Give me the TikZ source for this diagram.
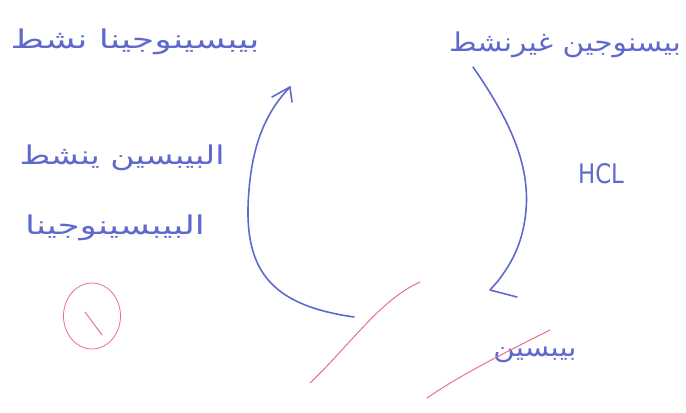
\documentclass[tikz,border=0pt]{standalone}
\usepackage{fontspec}
\usetikzlibrary{shapes.geometric}
\newfontfamily\arabicfont[Script=Arabic]{DejaVu Sans}
\TeXXeTstate=1
\definecolor{ink}{RGB}{95,105,205}
\definecolor{redink}{RGB}{235,110,140}
\tikzset{
  lbl/.style={text=ink, font=\arabicfont\fontsize{26}{30}\selectfont, inner sep=0pt},
  pen/.style={draw=ink, line width=1.6pt, line cap=round, line join=round},
  redpen/.style={draw=redink, line width=1pt, line cap=round},
}
\begin{document}
\begin{tikzpicture}[x=1bp,y=-1bp]
\useasboundingbox (0,0) rectangle (686,412);
\node[lbl, xscale=1.4] (tl) at (135,42) {\beginR بيبسينوجينا نشط\endR};
\node[lbl, xscale=1.15] (tr) at (565,45) {\beginR بيسنوجين غيرنشط\endR};
\node[lbl, xscale=1.28] (l1) at (122,158) {\beginR البيبسين ينشط\endR};
\node[lbl, xscale=1.38] (l2) at (115,228) {\beginR البيبسينوجينا\endR};
\node[text=ink, font=\arabicfont\fontsize{27}{30}\selectfont, xscale=0.85, inner sep=0pt] (hcl) at (601,174) {HCL};
\node[lbl, xscale=1.13] (br) at (535,355) {\beginR بيبسين\endR};
% circled one
\node[draw=redink, line width=0.8pt, ellipse, minimum width=57bp, minimum height=66bp, inner sep=0pt] (c1) at (92,316) {};
\draw[redpen] (c1.center) ++(-7,-4) coordinate (c1a) -- ++(17,23) coordinate (c1b);
% left arc (pepsin -> active)
\coordinate (la) at (354,317);
\coordinate (lb) at (290,87);
\draw[pen] (la) .. controls (270,305) and (242,270) .. (249,190) .. controls (253,140) and (268,110) .. (lb);
\draw[pen] (272,97) -- (lb) -- (292,102);
% right arc (inactive -> pepsin)
\coordinate (ra) at (473,67);
\coordinate (rb) at (498,281);
\draw[pen] (ra) .. controls (510,120) and (530,165) .. (526,210) .. controls (523,245) and (510,265) .. (rb);
\draw[pen] (rb) -- (490,290) -- (517,297);
% red strokes
\coordinate (r1a) at (310,383);
\coordinate (r1b) at (420,282);
\draw[redpen] (r1a) .. controls (350,345) and (380,300) .. (r1b);
\coordinate (r2a) at (427,398);
\coordinate (r2b) at (550,330);
\draw[redpen] (r2a) .. controls (460,375) and (510,350) .. (r2b);
\end{tikzpicture}
\end{document}
